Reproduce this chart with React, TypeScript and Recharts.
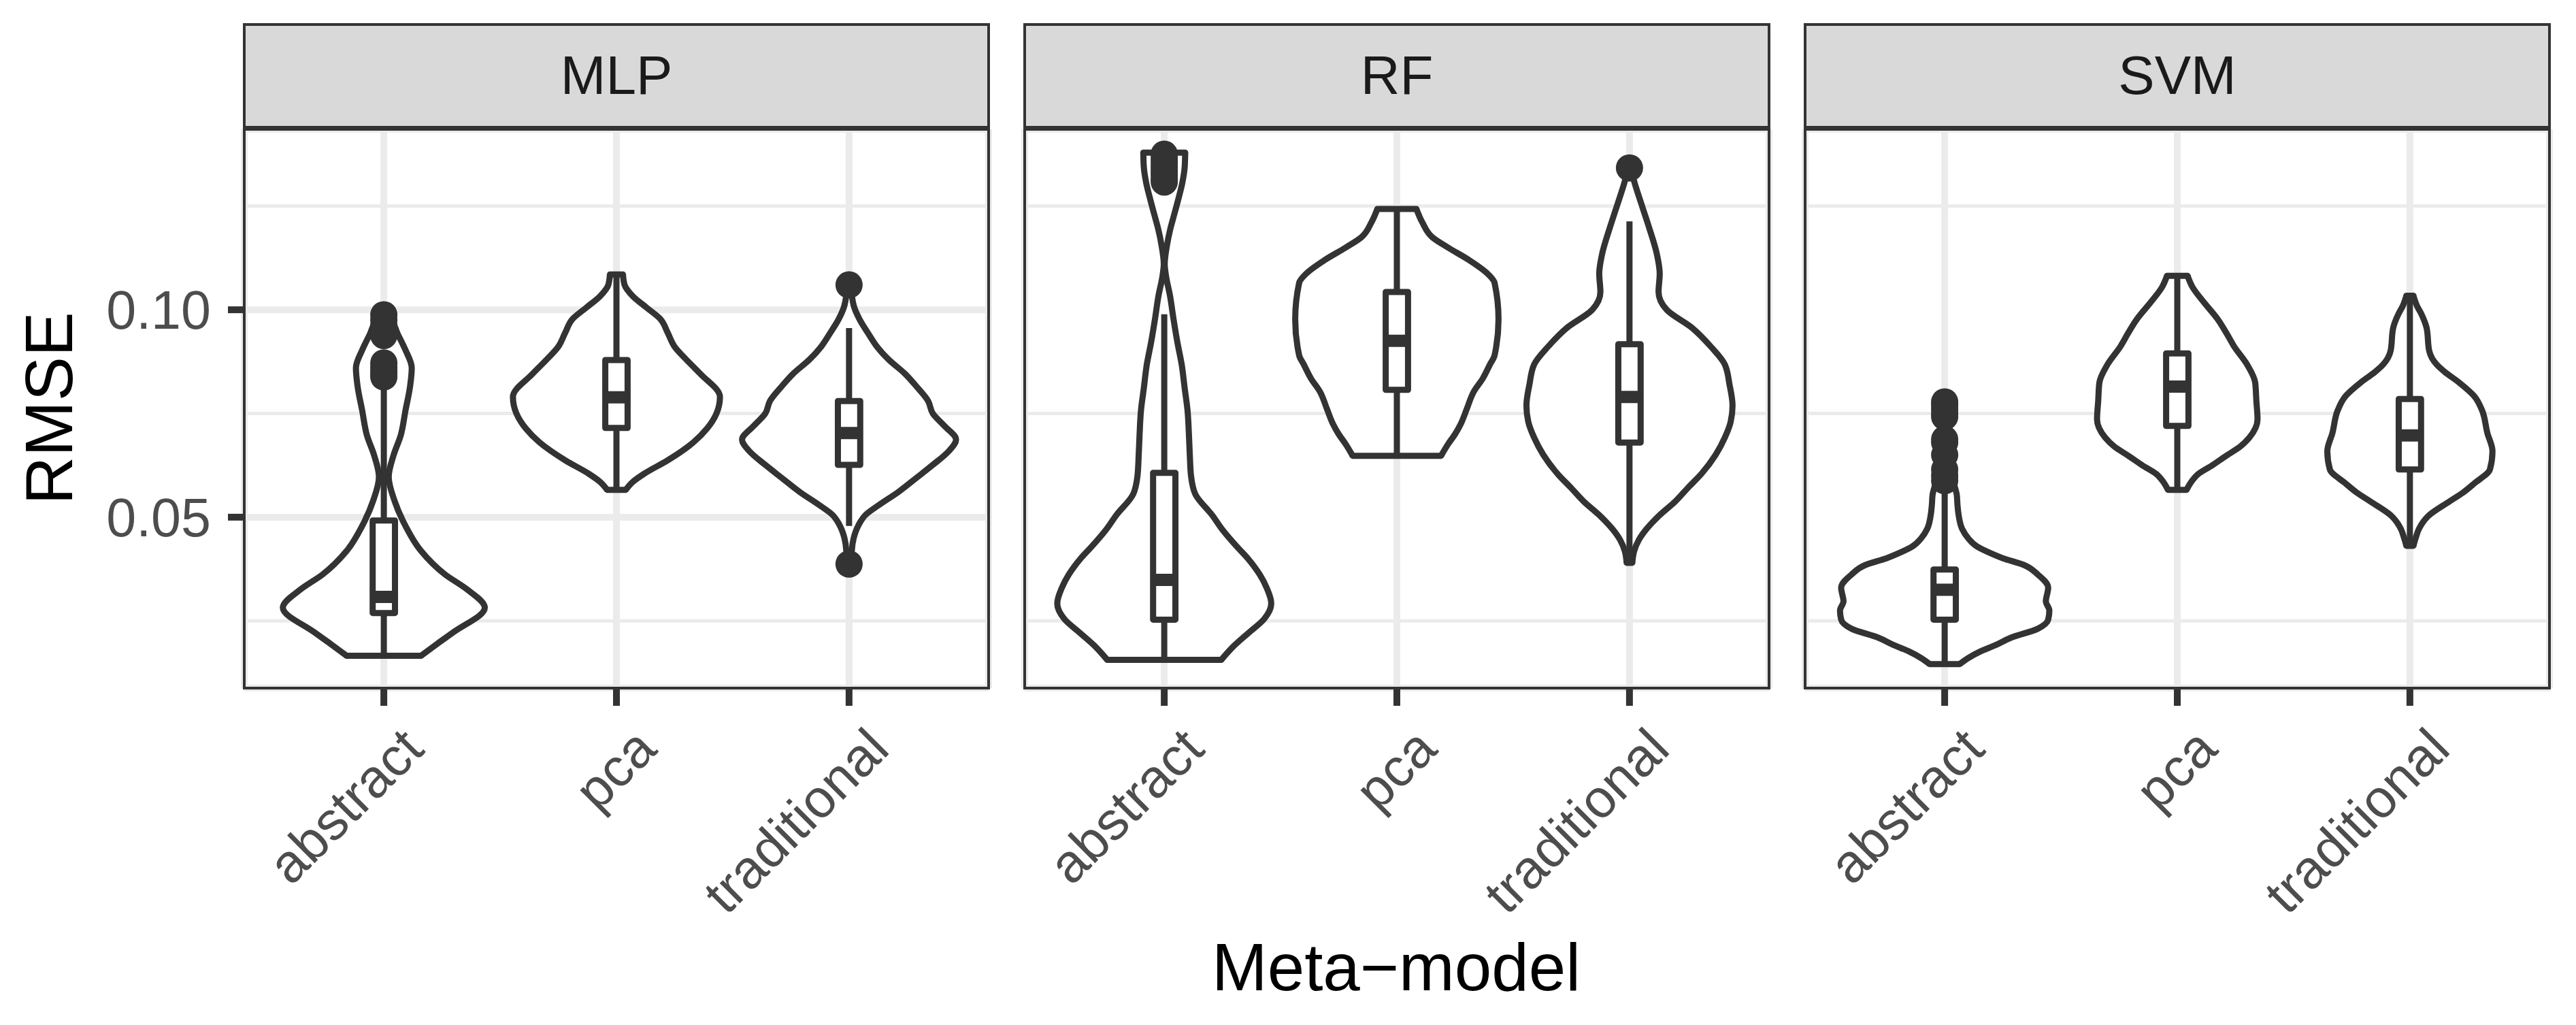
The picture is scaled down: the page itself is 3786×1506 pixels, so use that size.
import React from "react";
import {
  Area,
  CartesianGrid,
  ComposedChart,
  Line,
  ReferenceLine,
  Scatter,
  XAxis,
  YAxis,
} from "recharts";

const MODELS = ["MLP", "RF", "SVM"];
const CATEGORIES = ["abstract", "pca", "traditional"];
const Y_TICKS = [0.05, 0.1];
const Y_MINOR = [0.025, 0.075, 0.125];
const Y_DOMAIN: [number, number] = [0.0088, 0.1435];

// violin outlines: [RMSE, half width in category units], bottom to top
const MLP_ABSTRACT = [
  [0.0166, 0.16], [0.0195, 0.23], [0.0223, 0.3], [0.0282, 0.434], [0.0325, 0.36],
  [0.0362, 0.263], [0.042, 0.158], [0.0479, 0.093], [0.0538, 0.047], [0.0597, 0.021],
  [0.0648, 0.041], [0.0698, 0.073], [0.0757, 0.093], [0.0816, 0.113], [0.086, 0.12],
  [0.0903, 0.093], [0.094, 0.061], [0.0977, 0.03], [0.0988, 0.012],
];
const MLP_PCA = [
  [0.0566, 0.04], [0.0585, 0.07], [0.0605, 0.12], [0.0637, 0.22], [0.068, 0.33],
  [0.0714, 0.39], [0.075, 0.43], [0.079, 0.445], [0.0846, 0.36], [0.088, 0.3],
  [0.0911, 0.25], [0.0945, 0.22], [0.0977, 0.19], [0.1005, 0.13], [0.1033, 0.07],
  [0.106, 0.035], [0.1085, 0.028],
];
const MLP_TRADITIONAL = [
  [0.0387, 0.01], [0.042, 0.012], [0.045, 0.02], [0.048, 0.04], [0.0505, 0.07],
  [0.053, 0.13], [0.056, 0.21], [0.0595, 0.29], [0.0626, 0.36], [0.066, 0.43],
  [0.0687, 0.46], [0.072, 0.41], [0.075, 0.36], [0.078, 0.34], [0.0815, 0.29],
  [0.0846, 0.24], [0.088, 0.17], [0.0911, 0.12], [0.0945, 0.08], [0.0977, 0.045],
  [0.101, 0.02], [0.106, 0.008],
];
const RF_ABSTRACT = [
  [0.0156, 0.245], [0.019, 0.3], [0.022, 0.36], [0.0255, 0.43], [0.0292, 0.46],
  [0.033, 0.44], [0.0362, 0.41], [0.04, 0.36], [0.0428, 0.314], [0.047, 0.25],
  [0.0505, 0.206], [0.0555, 0.134], [0.06, 0.115], [0.0648, 0.11], [0.07, 0.106],
  [0.0758, 0.1], [0.081, 0.088], [0.0868, 0.075], [0.0923, 0.056], [0.0977, 0.04],
  [0.1033, 0.025], [0.108, 0.008], [0.111, 0.002], [0.1153, 0.011], [0.1197, 0.027],
  [0.123, 0.043], [0.127, 0.062], [0.1307, 0.078], [0.1345, 0.088], [0.1379, 0.09],
];
const RF_PCA = [
  [0.0648, 0.19], [0.0676, 0.22], [0.07, 0.25], [0.0725, 0.275], [0.076, 0.3],
  [0.0802, 0.33], [0.0835, 0.37], [0.0868, 0.4], [0.089, 0.42], [0.0977, 0.437],
  [0.1065, 0.42], [0.1087, 0.39], [0.112, 0.31], [0.115, 0.22], [0.1175, 0.152],
  [0.121, 0.11], [0.1243, 0.084],
];
const RF_TRADITIONAL = [
  [0.039, 0.012], [0.0418, 0.02], [0.0445, 0.04], [0.0472, 0.074], [0.0505, 0.13],
  [0.0538, 0.197], [0.057, 0.25], [0.0605, 0.31], [0.065, 0.37], [0.0692, 0.41],
  [0.073, 0.435], [0.0769, 0.443], [0.082, 0.43], [0.0868, 0.41], [0.0911, 0.35],
  [0.0956, 0.27], [0.1, 0.16], [0.1043, 0.125], [0.1087, 0.13], [0.1131, 0.119],
  [0.1197, 0.085], [0.124, 0.06], [0.1274, 0.04], [0.131, 0.02], [0.134, 0.008],
];
const SVM_ABSTRACT = [
  [0.0146, 0.065], [0.016, 0.1], [0.0176, 0.152], [0.0192, 0.22], [0.0209, 0.283],
  [0.0231, 0.4], [0.0253, 0.445], [0.0275, 0.45], [0.0297, 0.435], [0.033, 0.445],
  [0.0362, 0.4], [0.0385, 0.34], [0.0401, 0.25], [0.0415, 0.19], [0.0429, 0.14],
  [0.045, 0.1], [0.0472, 0.075], [0.0505, 0.06], [0.053, 0.055], [0.0554, 0.052],
  [0.058, 0.04], [0.062, 0.025], [0.068, 0.015], [0.074, 0.01], [0.0775, 0.005],
];
const SVM_PCA = [
  [0.0566, 0.04], [0.0585, 0.06], [0.0604, 0.09], [0.0625, 0.15], [0.0648, 0.21],
  [0.067, 0.27], [0.0692, 0.31], [0.0736, 0.345], [0.078, 0.34], [0.0824, 0.335],
  [0.0868, 0.3], [0.0911, 0.245], [0.0945, 0.21], [0.0977, 0.174], [0.1021, 0.11],
  [0.1055, 0.065], [0.1082, 0.044],
];
const SVM_TRADITIONAL = [
  [0.0431, 0.015], [0.045, 0.025], [0.0472, 0.039], [0.0505, 0.083], [0.0538, 0.17],
  [0.056, 0.23], [0.0582, 0.278], [0.0615, 0.344], [0.0659, 0.355], [0.0703, 0.333],
  [0.0758, 0.31], [0.0791, 0.278], [0.0824, 0.213], [0.085, 0.15], [0.0868, 0.115],
  [0.0901, 0.083], [0.0956, 0.072], [0.0989, 0.05], [0.101, 0.03], [0.1034, 0.015],
];

// [lower whisker, q1, median, q3, upper whisker] per category
const MLP_BOXES = [
  [0.0166, 0.0269, 0.0308, 0.0492, 0.0825],
  [0.0566, 0.0715, 0.0789, 0.0879, 0.1085],
  [0.0479, 0.0626, 0.0703, 0.078, 0.0956],
];
const RF_BOXES = [
  [0.0156, 0.0253, 0.0349, 0.0607, 0.0989],
  [0.0648, 0.0807, 0.0925, 0.1043, 0.1243],
  [0.039, 0.068, 0.079, 0.0917, 0.1213],
];
const SVM_BOXES = [
  [0.0146, 0.0253, 0.0325, 0.0374, 0.056],
  [0.0566, 0.072, 0.0815, 0.0895, 0.1082],
  [0.0431, 0.0615, 0.0697, 0.0785, 0.1034],
];

const MLP_OUTLIERS = [
  [0.0988, 0.0975, 0.0962, 0.095, 0.0938, 0.0872, 0.0862, 0.0852, 0.0845, 0.0838],
  [],
  [0.106, 0.0387],
];
const RF_OUTLIERS = [
  [0.1375, 0.1365, 0.1355, 0.1345, 0.1335, 0.1325, 0.1315, 0.1308],
  [],
  [0.1342],
];
const SVM_OUTLIERS = [
  [0.0778, 0.077, 0.076, 0.075, 0.0742, 0.0688, 0.068, 0.065, 0.0615, 0.06, 0.0588],
  [],
  [],
];

const VIOLINS = [
  [MLP_ABSTRACT, MLP_PCA, MLP_TRADITIONAL],
  [RF_ABSTRACT, RF_PCA, RF_TRADITIONAL],
  [SVM_ABSTRACT, SVM_PCA, SVM_TRADITIONAL],
];
const BOXES = [MLP_BOXES, RF_BOXES, SVM_BOXES];
const OUTLIERS = [MLP_OUTLIERS, RF_OUTLIERS, SVM_OUTLIERS];

const FONT = '"Liberation Sans", Arial, Helvetica, sans-serif';
const INK = "#333333";
const GRID = "#EBEBEB";
const PANEL_LEFT = [359, 1506, 2653];
const PANEL_W = 1094;
const PLOT_TOP = 190;
const PLOT_BOTTOM = 1011;
const AXIS_W = 400;
const H = 1506;
const BOX_HALF = 0.048;
const LW = 9;

const XTick = (props: any) => {
  const { x, y, payload } = props;
  const ax = x + 22;
  return (
    <text
      x={ax}
      y={y}
      transform={`rotate(-45 ${ax} ${y})`}
      textAnchor="end"
      dy="0.72em"
      fontSize={79}
      fill="#4D4D4D"
      fontFamily={FONT}
    >
      {CATEGORIES[payload.value - 1]}
    </text>
  );
};

const seg = (key: string, pts: { x: number; y: number }[], width: number, z: number, cap = "butt") => (
  <Line
    key={key}
    data={pts}
    dataKey="x"
    type="linear"
    stroke={INK}
    strokeWidth={width}
    strokeLinecap={cap as any}
    strokeLinejoin="round"
    dot={false}
    activeDot={false}
    legendType="none"
    isAnimationActive={false}
    zIndex={z}
  />
);

function violinParts(p: number, i: number) {
  const c = i + 1;
  const dens = VIOLINS[p][i];
  const [lo, q1, med, q3, hi] = BOXES[p][i];
  const first = dens[0];
  const last = dens[dens.length - 1];
  const k = `${p}-${i}`;
  const outline = dens.map(([y, w]) => ({ y, v: [c - w, c + w] }));
  return [
    <Area
      key={`a${k}`}
      data={outline}
      dataKey="v"
      type="monotone"
      stroke={INK}
      strokeWidth={LW}
      fill="#FFFFFF"
      fillOpacity={1}
      dot={false}
      activeDot={false}
      legendType="none"
      isAnimationActive={false}
      zIndex={100}
    />,
    seg(`cb${k}`, [{ x: c - first[1], y: first[0] }, { x: c + first[1], y: first[0] }], LW, 110, "round"),
    seg(`ct${k}`, [{ x: c - last[1], y: last[0] }, { x: c + last[1], y: last[0] }], LW, 110, "round"),
    seg(`wl${k}`, [{ x: c, y: lo }, { x: c, y: q1 }], LW, 120),
    seg(`wh${k}`, [{ x: c, y: q3 }, { x: c, y: hi }], LW, 120),
    seg(
      `bx${k}`,
      [
        { x: c - BOX_HALF, y: q1 },
        { x: c + BOX_HALF, y: q1 },
        { x: c + BOX_HALF, y: q3 },
        { x: c - BOX_HALF, y: q3 },
        { x: c - BOX_HALF, y: q1 },
      ],
      LW,
      130,
      "round"
    ),
    seg(`md${k}`, [{ x: c - BOX_HALF, y: med }, { x: c + BOX_HALF, y: med }], 18, 140),
    OUTLIERS[p][i].length > 0 ? (
      <Scatter
        key={`o${k}`}
        data={OUTLIERS[p][i].map((y) => ({ x: c, y }))}
        fill={INK}
        legendType="none"
        isAnimationActive={false}
        zIndex={150}
        shape={(s: any) => <circle cx={s.cx} cy={s.cy} r={20} fill={INK} />}
      />
    ) : null,
  ];
}

function Panel({ p }: { p: number }) {
  const left = PANEL_LEFT[p];
  const first = p === 0;
  return (
    <>
      <div style={{ position: "absolute", left: left - AXIS_W, top: 0 }}>
        <ComposedChart
          layout="vertical"
          width={AXIS_W + PANEL_W + 30}
          height={H}
          margin={{ top: PLOT_TOP, right: 30, bottom: H - PLOT_BOTTOM - 300, left: 0 }}
        >
          <CartesianGrid stroke={GRID} strokeWidth={10} />
          {Y_MINOR.map((v) => (
            <ReferenceLine key={`m${v}`} y={v} stroke={GRID} strokeWidth={5} zIndex={-90} />
          ))}
          <XAxis
            type="number"
            dataKey="x"
            domain={[0.4, 3.6]}
            ticks={[1, 2, 3]}
            interval={0}
            allowDataOverflow
            height={300}
            axisLine={false}
            tickSize={26}
            tickMargin={27}
            tickLine={{ stroke: INK, strokeWidth: 10 }}
            tick={(t: any) => <XTick {...t} />}
          />
          <YAxis
            type="number"
            dataKey="y"
            domain={Y_DOMAIN}
            ticks={Y_TICKS}
            interval={0}
            reversed
            allowDataOverflow
            width={AXIS_W}
            axisLine={false}
            tickSize={24}
            tickMargin={25}
            tickLine={first ? { stroke: INK, strokeWidth: 10 } : false}
            tick={first ? { fontSize: 79, fill: "#4D4D4D", fontFamily: FONT } : false}
            tickFormatter={(v: number) => v.toFixed(2)}
          />
          {[0, 1, 2].flatMap((i) => violinParts(p, i))}
        </ComposedChart>
      </div>
      <div
        style={{
          position: "absolute",
          left: left - 2.25,
          top: 34,
          width: PANEL_W + 4.5,
          height: 155,
          boxSizing: "border-box",
          border: `4.5px solid ${INK}`,
          background: "#D9D9D9",
          textAlign: "center",
          lineHeight: "146px",
          fontSize: 80,
          color: "#1A1A1A",
          fontFamily: FONT,
        }}
      >
        {MODELS[p]}
      </div>
      <div
        style={{
          position: "absolute",
          left: left - 2.25,
          top: PLOT_TOP - 2.25,
          width: PANEL_W + 4.5,
          height: PLOT_BOTTOM - PLOT_TOP + 4.5,
          boxSizing: "border-box",
          border: `4.5px solid ${INK}`,
          pointerEvents: "none",
        }}
      />
    </>
  );
}

export default function App() {
  return (
    <div
      style={{
        position: "absolute",
        left: 0,
        top: 0,
        width: 3786,
        height: H,
        background: "#FFFFFF",
        overflow: "hidden",
        fontFamily: FONT,
      }}
    >
      {[0, 1, 2].map((p) => (
        <Panel key={p} p={p} />
      ))}
      <div
        style={{
          position: "absolute",
          left: 72,
          top: 600,
          transform: "translate(-50%, -50%) rotate(-90deg)",
          fontSize: 98,
          lineHeight: "98px",
          color: "#000000",
          whiteSpace: "nowrap",
        }}
      >
        RMSE
      </div>
      <div
        style={{
          position: "absolute",
          left: 2052,
          top: 1372,
          transform: "translateX(-50%)",
          fontSize: 98,
          lineHeight: "98px",
          color: "#000000",
          whiteSpace: "nowrap",
        }}
      >
        Meta−model
      </div>
    </div>
  );
}
